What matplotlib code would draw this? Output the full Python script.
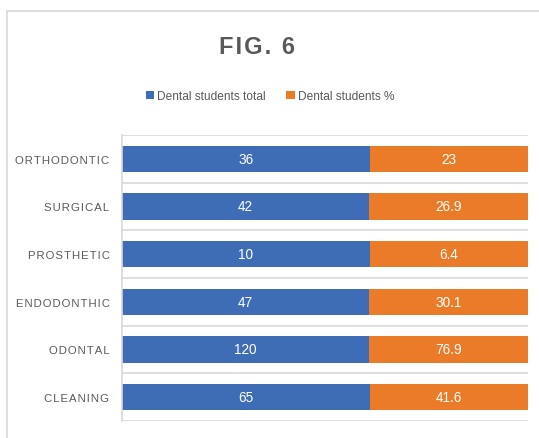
import numpy as np
import matplotlib.pyplot as plt
from matplotlib import font_manager
from matplotlib.patches import Rectangle

categories = ['ORTHODONTIC', 'SURGICAL', 'PROSTHETIC', 'ENDODONTHIC', 'ODONTAL', 'CLEANING']
total = [36, 42, 10, 47, 120, 65]
percent = [23, 26.9, 6.4, 30.1, 76.9, 41.6]
series_names = ['Dental students total', 'Dental students %']

blue = '#3F6DB5'
orange = '#EA7B28'
grey_txt = '#595959'
grid_c = '#D9D9D9'

names = {f.name for f in font_manager.fontManager.ttflist}
if 'Liberation Sans Narrow' in names:
    narrow = ['Liberation Sans Narrow', 'DejaVu Sans']
    sp = '\u2009'
    lab_size, num_size, leg_size, tit_size = 10.5, 11, 10.5, 19
else:
    narrow = ['Liberation Sans', 'DejaVu Sans']
    sp = '\u200a'
    lab_size, num_size, leg_size, tit_size = 8.2, 9.8, 8.6, 17

t = np.array(total, dtype=float)
p = np.array(percent, dtype=float)
s = t + p
f_t = t / s
f_p = p / s

fig = plt.figure(figsize=(5.39, 4.39), dpi=100)
fig.patches.append(Rectangle((7 / 539, -0.1), 1.2, 1 - 12 / 439 + 0.1,
                             transform=fig.transFigure, fill=False,
                             edgecolor=grid_c, linewidth=1.2))

ax = fig.add_axes([122 / 539, 17 / 439, 406 / 539, 286 / 439])
y = np.arange(len(categories))
b1 = ax.barh(y, f_t, height=0.55, color=blue, label=series_names[0])
b2 = ax.barh(y, f_p, left=f_t, height=0.55, color=orange, label=series_names[1])

for i in range(len(categories)):
    ax.text(f_t[i] / 2, y[i], f'{total[i]:g}', ha='center', va='center',
            color='white', fontsize=num_size, family=narrow)
    ax.text(f_t[i] + f_p[i] / 2, y[i], f'{percent[i]:g}', ha='center', va='center',
            color='white', fontsize=num_size, family=narrow)

ax.set_xlim(0, 1)
ax.set_ylim(len(categories) - 0.5, -0.5)
for b in np.arange(-0.5, len(categories), 1.0):
    ax.axhline(b, color=grid_c, lw=1.2, zorder=0)
ax.set_yticks(y)
ax.set_yticklabels([sp.join(c) for c in categories], family=narrow,
                   fontsize=lab_size, color=grey_txt)
ax.tick_params(axis='y', length=0, pad=9)
ax.set_xticks([])
for side in ['top', 'right', 'bottom']:
    ax.spines[side].set_visible(False)
ax.spines['left'].set_color(grid_c)
ax.spines['left'].set_linewidth(1.2)

fig.text(257 / 539, 1 - 48 / 439, sp.join('FIG. 6'), ha='center', va='center',
         fontsize=tit_size, fontweight='bold', color=grey_txt, family=narrow)
fig.legend(handles=[b1, b2], loc='center', bbox_to_anchor=(270 / 539, 1 - 97 / 439),
           ncol=2, frameon=False, handlelength=0.7, handleheight=0.7,
           handletextpad=0.25, columnspacing=1.7,
           prop={'family': narrow, 'size': leg_size}, labelcolor=grey_txt)

plt.savefig('out.png', dpi=100)
